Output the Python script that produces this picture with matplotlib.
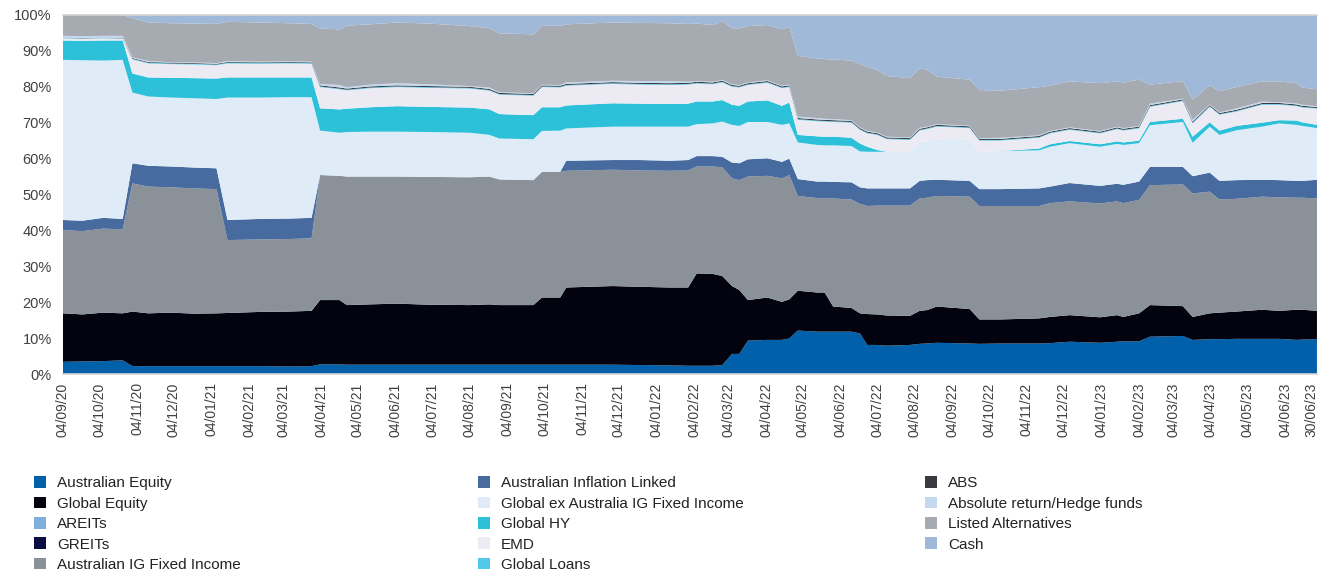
import numpy as np
import pandas as pd
import matplotlib
matplotlib.use("Agg")
import matplotlib.pyplot as plt
import matplotlib.dates as mdates
import matplotlib.transforms as mtransforms
from matplotlib.ticker import FuncFormatter

plt.rcParams['font.family'] = ['Liberation Sans', 'DejaVu Sans']

dates = pd.to_datetime([
    "2020-09-04", "2020-09-20", "2020-10-07", "2020-10-23", "2020-10-31", "2020-11-13", "2020-12-02",
    "2020-12-21", "2021-01-08", "2021-01-17", "2021-02-13", "2021-03-09", "2021-03-27", "2021-04-03",
    "2021-04-19", "2021-04-25", "2021-05-14", "2021-06-05", "2021-07-02", "2021-08-04", "2021-08-20",
    "2021-08-28", "2021-09-25", "2021-10-02", "2021-10-17", "2021-10-22", "2021-11-29", "2021-12-21",
    "2022-01-15", "2022-01-30", "2022-02-06", "2022-02-19", "2022-02-27", "2022-03-07", "2022-03-13",
    "2022-03-20", "2022-04-05", "2022-04-17", "2022-04-23", "2022-04-30", "2022-05-16", "2022-05-22",
    "2022-05-29", "2022-06-13", "2022-06-20", "2022-06-26", "2022-07-04", "2022-07-12", "2022-07-31",
    "2022-08-08", "2022-08-14", "2022-08-22", "2022-09-18", "2022-09-26", "2022-10-13", "2022-11-14",
    "2022-11-23", "2022-12-09", "2023-01-03", "2023-01-17", "2023-01-22", "2023-02-04", "2023-02-13",
    "2023-03-12", "2023-03-20", "2023-04-03", "2023-04-11", "2023-04-25", "2023-05-16", "2023-05-30",
    "2023-06-13", "2023-06-18", "2023-06-30",
])

aus_equity = [3.4, 3.5, 3.6, 3.8, 2.2, 2.2, 2.2, 2.2, 2.2, 2.2, 2.2, 2.1, 2.2, 2.7, 2.7, 2.6, 2.6, 2.6, 2.6,
              2.6, 2.6, 2.6, 2.6, 2.6, 2.6, 2.6, 2.6, 2.5, 2.4, 2.3, 2.3, 2.3, 2.5, 5.6, 5.6, 9.3, 9.5, 9.5,
              9.9, 12.1, 11.8, 11.8, 11.8, 11.8, 11.3, 8.1, 8.1, 7.9, 8.1, 8.4, 8.5, 8.7, 8.5, 8.4, 8.5, 8.5,
              8.6, 9.0, 8.7, 9.0, 9.1, 9.1, 10.4, 10.6, 9.5, 9.7, 9.7, 9.8, 9.8, 9.8, 9.5, 9.6, 9.7]
global_equity = [13.5, 13.1, 13.5, 13.1, 15.2, 14.7, 14.9, 14.6, 14.7, 14.8, 15.1, 15.3, 15.4, 17.9, 17.9,
                 16.6, 16.8, 17.0, 16.7, 16.6, 16.8, 16.6, 16.6, 18.7, 18.7, 21.5, 21.9, 21.8, 21.7, 21.8,
                 25.7, 25.6, 24.8, 18.9, 17.8, 11.3, 11.8, 10.6, 10.9, 11.1, 10.9, 10.9, 7.0, 6.6, 5.6, 8.6,
                 8.5, 8.4, 8.1, 9.2, 9.3, 10.1, 9.6, 6.8, 6.7, 7.0, 7.3, 7.4, 7.1, 7.4, 6.8, 7.8, 8.8, 8.3,
                 6.4, 7.2, 7.4, 7.6, 8.1, 7.8, 8.4, 8.3, 7.9]
areits = [0, 0, 0, 0, 0, 0, 0, 0, 0, 0, 0, 0, 0, 0, 0, 0, 0, 0, 0, 0, 0, 0, 0, 0, 0, 0, 0, 0, 0, 0, 0, 0, 0,
          0, 0, 0, 0, 0, 0, 0, 0, 0, 0, 0, 0, 0, 0, 0, 0, 0, 0, 0, 0, 0, 0, 0, 0, 0, 0, 0, 0, 0, 0, 0, 0, 0,
          0, 0, 0, 0, 0, 0, 0]
greits = [0, 0, 0, 0, 0, 0, 0, 0, 0, 0, 0, 0, 0, 0, 0, 0, 0, 0, 0, 0, 0, 0, 0, 0, 0, 0, 0, 0, 0, 0, 0, 0, 0,
          0, 0, 0, 0, 0, 0, 0, 0, 0, 0, 0, 0, 0, 0, 0, 0, 0, 0, 0, 0, 0, 0, 0, 0, 0, 0, 0, 0, 0, 0, 0, 0, 0,
          0, 0, 0, 0, 0, 0, 0]
aus_ig = [23.2, 23.2, 23.4, 23.4, 35.7, 35.3, 34.9, 34.9, 34.6, 20.3, 20.2, 20.2, 20.2, 34.6, 34.6, 35.8, 35.6,
          35.4, 35.6, 35.6, 35.6, 35.0, 34.8, 35.0, 35.0, 32.5, 32.4, 32.4, 32.5, 32.6, 29.8, 29.9, 30.3, 30.0,
          30.6, 34.4, 33.9, 34.4, 34.6, 26.4, 26.3, 26.2, 30.1, 30.2, 30.5, 30.1, 30.3, 30.6, 30.7, 31.3, 31.3,
          30.8, 31.3, 31.6, 31.6, 31.3, 31.7, 31.7, 31.7, 31.7, 31.7, 31.6, 33.4, 33.9, 34.4, 33.9, 31.5, 31.4,
          31.5, 31.6, 31.2, 31.2, 31.3]
aus_inflation = [2.8, 2.9, 3.0, 2.9, 5.6, 5.8, 5.8, 5.8, 5.8, 5.6, 5.7, 5.7, 5.7, 0.2, 0, 0, 0, 0, 0, 0, 0, 0,
                 0, 0, 0, 2.8, 2.7, 2.9, 2.8, 2.9, 2.9, 2.9, 2.9, 4.4, 4.7, 4.8, 4.9, 4.6, 4.6, 4.7, 4.6, 4.7,
                 4.6, 4.8, 4.6, 4.9, 4.8, 4.8, 4.8, 4.9, 4.9, 4.5, 4.4, 4.7, 4.7, 4.9, 4.6, 5.1, 4.9, 4.9, 5.1,
                 5.1, 5.1, 4.9, 4.8, 5.3, 5.2, 5.2, 4.7, 4.8, 4.7, 4.7, 5.2]
global_ex_aus = [44.6, 44.7, 43.8, 44.3, 19.7, 19.3, 19.2, 19.3, 19.3, 34.1, 33.8, 33.8, 33.6, 12.4, 12.0,
                 12.4, 12.5, 12.5, 12.5, 12.4, 11.6, 11.4, 11.4, 11.4, 11.5, 9.0, 9.3, 9.3, 9.5, 9.3, 8.9,
                 9.1, 9.8, 10.5, 10.4, 10.4, 10.1, 10.3, 9.8, 10.2, 10.2, 10.1, 10.2, 10.1, 10.0, 10.2, 10.2,
                 10.2, 10.2, 10.9, 10.7, 11.5, 11.5, 10.4, 10.6, 10.6, 11.1, 11.1, 10.9, 11.1, 11.1, 10.7,
                 11.6, 12.5, 9.3, 12.8, 12.8, 13.9, 14.8, 15.8, 15.6, 15.3, 14.4]
global_hy = [5.4, 5.4, 5.6, 5.4, 5.3, 5.3, 5.5, 5.6, 5.7, 5.6, 5.6, 5.5, 5.5, 6.2, 6.5, 6.5, 6.8, 7.1, 7.0,
             7.0, 7.1, 6.8, 6.7, 6.6, 6.5, 6.4, 6.5, 6.4, 6.3, 6.4, 6.3, 6.1, 6.0, 5.6, 5.6, 5.7, 6.0, 5.3,
             5.8, 2.1, 2.4, 2.4, 2.4, 2.3, 2.2, 1.4, 0.5, 0, 0, 0, 0, 0, 0, 0, 0, 0.5, 0.7, 0.6, 0.7, 0.7,
             0.7, 0.7, 0.9, 0.9, 1.7, 1.2, 1.2, 1.2, 1.1, 0.9, 1.2, 1.0, 0.9]
emd = [0.6, 0.6, 0.6, 0.5, 3.9, 3.9, 3.8, 3.8, 3.7, 3.9, 3.8, 3.9, 3.8, 5.9, 5.6, 5.1, 5.3, 5.3, 5.3, 5.3,
       5.2, 5.4, 5.4, 5.6, 5.5, 5.5, 5.4, 5.3, 5.3, 5.3, 5.0, 4.8, 4.9, 5.0, 5.1, 4.6, 4.9, 4.9, 4.3, 4.2,
       4.2, 4.2, 4.1, 4.2, 3.8, 3.7, 4.2, 3.5, 3.3, 3.1, 3.5, 3.3, 3.2, 3.1, 2.9, 3.0, 3.0, 3.1, 3.0, 3.4,
       3.3, 3.4, 4.2, 4.9, 3.7, 4.3, 4.4, 4.0, 5.0, 4.3, 4.0, 4.1, 4.5]
global_loans = [0.1, 0.1, 0.1, 0.1, 0.2, 0.2, 0.2, 0.2, 0.2, 0.2, 0.2, 0.2, 0.2, 0.2, 0.2, 0.2, 0.2, 0.2,
                0.2, 0.2, 0.2, 0.2, 0.2, 0.2, 0.2, 0.2, 0.2, 0.2, 0.2, 0.2, 0.2, 0.2, 0.2, 0.2, 0.2, 0.2,
                0.2, 0.2, 0.2, 0.2, 0.2, 0.2, 0.2, 0.2, 0.2, 0.2, 0.2, 0.2, 0.2, 0.2, 0.2, 0.2, 0.2, 0.2,
                0.2, 0.2, 0.2, 0.2, 0.2, 0.2, 0.2, 0.2, 0.2, 0.2, 0.2, 0.2, 0.2, 0.2, 0.2, 0.2, 0.2, 0.2, 0.2]
abs_ = [0.1, 0.1, 0.1, 0.1, 0.2, 0.2, 0.2, 0.2, 0.2, 0.2, 0.2, 0.2, 0.2, 0.3, 0.3, 0.3, 0.3, 0.3, 0.3, 0.3,
        0.3, 0.3, 0.3, 0.3, 0.3, 0.3, 0.3, 0.3, 0.3, 0.3, 0.3, 0.3, 0.3, 0.3, 0.3, 0.3, 0.3, 0.3, 0.3, 0.3,
        0.3, 0.3, 0.3, 0.3, 0.3, 0.3, 0.3, 0.3, 0.3, 0.3, 0.3, 0.3, 0.3, 0.3, 0.3, 0.3, 0.3, 0.3, 0.3, 0.3,
        0.3, 0.3, 0.3, 0.3, 0.3, 0.3, 0.3, 0.3, 0.3, 0.3, 0.3, 0.3, 0.3]
absolute_return = [0.5, 0.5, 0.5, 0.6, 0.2, 0.3, 0.1, 0.2, 0.2, 0.3, 0.2, 0.2, 0.2, 0.4, 0.7, 0.4, 0.5, 0.6,
                   0.5, 0.2, 0.4, 0.2, 0.2, 0.2, 0.2, 0.4, 0.4, 0.5, 0.6, 0.3, 0.2, 0.2, 0.2, 0.2, 0.2, 0.2,
                   0.2, 0.2, 0.2, 0.4, 0.4, 0.3, 0.3, 0.2, 0.2, 0.2, 0.2, 0.2, 0.2, 0.3, 0.2, 0.2, 0.2, 0.2,
                   0.3, 0.2, 0.2, 0.2, 0.2, 0.2, 0.2, 0.2, 0.4, 0.2, 0.5, 0.2, 0.2, 0.4, 0.4, 0.2, 0.3, 0.3, 0.2]
listed_alts = [5.8, 5.9, 5.8, 5.8, 10.9, 10.7, 10.9, 10.8, 10.9, 10.9, 10.9, 10.6, 10.5, 15.4, 15.5, 17.1,
               16.8, 16.9, 16.9, 16.7, 16.5, 16.4, 16.4, 16.4, 16.5, 16.2, 16.2, 16.2, 16.1, 16.1, 16.0, 15.8,
               16.4, 15.6, 15.8, 15.7, 15.4, 15.7, 16.1, 16.9, 16.6, 16.6, 16.6, 16.6, 17.6, 17.9, 17.4, 16.9,
               16.5, 16.5, 15.9, 13.2, 12.8, 13.4, 13.1, 13.4, 12.6, 12.8, 13.3, 12.6, 12.7, 12.9, 5.3, 4.9,
               5.6, 5.3, 5.9, 5.9, 5.6, 5.8, 5.6, 4.8, 4.7]
cash = [0, 0, 0, 0, 0.9, 2.1, 2.3, 2.4, 2.5, 1.9, 2.1, 2.3, 2.5, 3.8, 4.0, 3.0, 2.6, 2.1, 2.4, 3.1, 3.7, 5.1,
        5.4, 3.0, 3.0, 2.6, 2.1, 2.2, 2.3, 2.5, 2.4, 2.8, 1.7, 3.7, 3.7, 3.1, 2.8, 4.0, 3.3, 11.4, 12.1, 12.3,
        12.4, 12.7, 13.7, 14.4, 15.3, 17.0, 17.6, 14.9, 15.2, 17.2, 18.0, 20.9, 21.1, 20.1, 19.7, 18.5, 19.0,
        18.5, 18.8, 18.0, 19.4, 18.4, 23.6, 19.6, 21.2, 20.1, 18.5, 18.5, 19.0, 20.2, 20.7]

labels = ["Australian Equity", "Global Equity", "AREITs", "GREITs", "Australian IG Fixed Income",
          "Australian Inflation Linked", "Global ex Australia IG Fixed Income", "Global HY", "EMD",
          "Global Loans", "ABS", "Absolute return/Hedge funds", "Listed Alternatives", "Cash"]
series = [aus_equity, global_equity, areits, greits, aus_ig, aus_inflation, global_ex_aus, global_hy, emd,
          global_loans, abs_, absolute_return, listed_alts, cash]
colors = ["#0061AA", "#03030F", "#7FB0DD", "#0A0C44", "#8A9198", "#486B9F", "#DFECF8", "#2CC1D9",
          "#ECEBF4", "#52C8EA", "#3A3B40", "#C4D9EF", "#A6AAB1", "#A1B9D9"]

fig = plt.figure(figsize=(13.2, 5.74), dpi=100)
ax = fig.add_axes([0.0477, 0.3484, 0.9500, 0.6255])

polys = ax.stackplot(dates, *series, colors=colors, labels=labels, linewidth=0)

ax.set_xlim(dates[0], dates[-1])
ax.set_ylim(0, 100)
ax.set_yticks(np.arange(0, 101, 10))
ax.yaxis.set_major_formatter(FuncFormatter(lambda v, p: f"{int(v)}%"))

# monthly ticks on the 4th, plus the final date
tick_dates = list(pd.date_range("2020-09-01", "2023-06-01", freq="MS") + pd.Timedelta(days=3))
tick_dates.append(pd.Timestamp("2023-06-30"))
ax.set_xticks(tick_dates)
ax.xaxis.set_major_formatter(mdates.DateFormatter("%d/%m/%y"))

ax.tick_params(axis='both', length=0, labelsize=10.5, colors='#404040')
ax.tick_params(axis='x', pad=6, labelsize=10)
ax.tick_params(axis='y', pad=8)
xlabels = ax.get_xticklabels()
for lab in xlabels:
    lab.set_rotation(90)
# nudge the last label so it stays inside the figure
xlabels[-1].set_transform(xlabels[-1].get_transform() +
                          mtransforms.ScaledTranslation(-4 / 72, 0, fig.dpi_scale_trans))

for side in ['left', 'right']:
    ax.spines[side].set_visible(False)
for side in ['top', 'bottom']:
    ax.spines[side].set_color('#D4D4D4')
    ax.spines[side].set_linewidth(1.2)

# legend: three columns placed by hand
cols = [(0, 5, 0.0258), (5, 10, 0.3621), (10, 14, 0.7008)]
for start, stop, xpos in cols:
    leg = fig.legend(polys[start:stop], labels[start:stop], loc='upper left',
                     bbox_to_anchor=(xpos, 0.1705), frameon=False, fontsize=11,
                     handlelength=0.8, handleheight=0.8, handletextpad=0.7,
                     labelspacing=0.41, borderpad=0, borderaxespad=0)
    for t in leg.get_texts():
        t.set_color('#222222')

fig.savefig("out.png", dpi=100)
